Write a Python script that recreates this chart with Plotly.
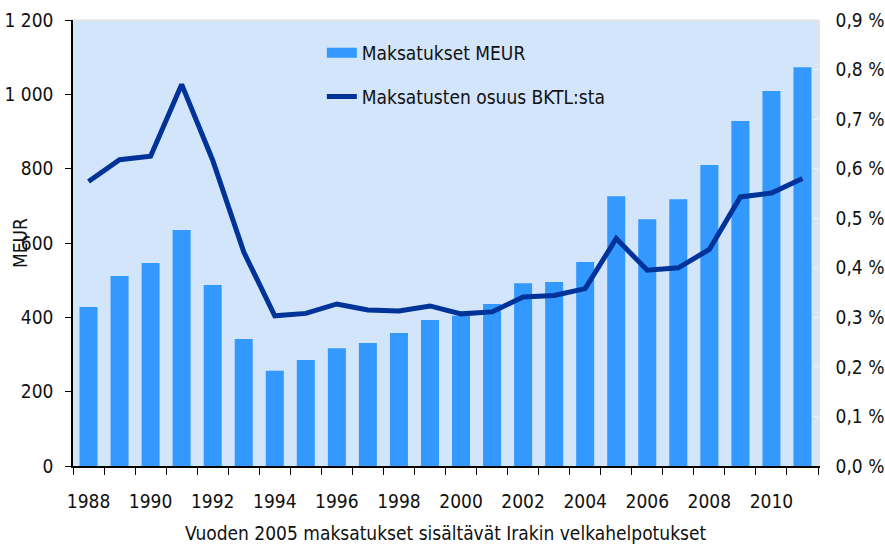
import plotly.graph_objects as go

years = list(range(1988, 2012))
payments_meur = [428, 511, 546, 635, 487, 342, 256, 285, 317, 331, 358, 393, 404,
                 436, 492, 495, 549, 726, 664, 718, 810, 928, 1009, 1073]
share_gni_pct = [0.574, 0.618, 0.625, 0.770, 0.617, 0.432, 0.303, 0.308, 0.327, 0.315,
                 0.313, 0.323, 0.307, 0.311, 0.341, 0.344, 0.358, 0.459, 0.395, 0.400,
                 0.437, 0.543, 0.551, 0.580]

left_tickvals = [0, 200, 400, 600, 800, 1000, 1200]
left_ticktext = ["0", "200", "400", "600", "800", "1 000", "1 200"]
right_tickvals = [0.0, 0.1, 0.2, 0.3, 0.4, 0.5, 0.6, 0.7, 0.8, 0.9]
right_ticktext = ["0,0 %", "0,1 %", "0,2 %", "0,3 %", "0,4 %", "0,5 %", "0,6 %", "0,7 %", "0,8 %", "0,9 %"]
x_tickvals = list(range(1988, 2011, 2))
x_ticktext = [str(v) for v in x_tickvals]

FONT = "Liberation Sans Narrow, DejaVu Sans Condensed, Arial Narrow, sans-serif"
BAR_COLOR = "#3399FF"
LINE_COLOR = "#003399"

fig = go.Figure()
fig.add_trace(go.Bar(
    x=years, y=payments_meur, name="Maksatukset MEUR",
    marker=dict(color=BAR_COLOR, line=dict(width=0)),
    width=0.58, showlegend=False,
))
# legend-only entry giving a wide rectangular swatch for the bars
fig.add_trace(go.Scatter(
    x=[None], y=[None], name="Maksatukset MEUR",
    mode="lines", line=dict(color=BAR_COLOR, width=19),
    legendgroup="a", showlegend=True,
))
fig.add_trace(go.Scatter(
    x=years, y=share_gni_pct, name="Maksatusten osuus BKTL:sta",
    mode="lines", line=dict(color=LINE_COLOR, width=5),
    yaxis="y2", legendgroup="b",
))

fig.update_layout(
    width=885, height=547,
    margin=dict(l=73, r=67, t=20, b=81, autoexpand=False),
    paper_bgcolor="white",
    plot_bgcolor="#D3E5FA",
    font=dict(family=FONT, size=19, color="#111111"),
    showlegend=True,
    legend=dict(
        x=0.334, y=0.969, xanchor="left", yanchor="top",
        bgcolor="rgba(0,0,0,0)", tracegroupgap=16,
        font=dict(family=FONT, size=19, color="#111111"),
        traceorder="grouped",
    ),
    xaxis=dict(
        range=[1987.5, 2011.5],
        tickvals=x_tickvals, ticktext=x_ticktext,
        ticks="", ticklen=0, ticklabelstandoff=17,
        showline=True, linecolor="black", linewidth=1.5,
        showgrid=False, zeroline=False, automargin=False,
        tickfont=dict(size=19),
        minor=dict(tick0=1987.5, dtick=1, ticks="outside", ticklen=7,
                   tickcolor="black", tickwidth=1, showgrid=False),
    ),
    yaxis=dict(
        range=[0, 1200],
        tickvals=left_tickvals, ticktext=left_ticktext,
        ticks="outside", ticklen=6, tickcolor="black",
        showline=True, linecolor="black", linewidth=1.5,
        showgrid=False, zeroline=False, automargin=False,
        ticklabelstandoff=8,
        tickfont=dict(size=19),
    ),
    yaxis2=dict(
        range=[0, 0.9], overlaying="y", side="right",
        tickvals=right_tickvals, ticktext=right_ticktext,
        ticks="inside", ticklen=5, tickcolor="#F2F2F2",
        showline=True, linecolor="#E4E4E4", linewidth=1.5,
        showgrid=False, zeroline=False, automargin=False,
        ticklabelstandoff=12,
        tickfont=dict(size=19),
    ),
    bargap=0.42,
)
fig.add_shape(type="line", xref="paper", yref="paper", x0=0, x1=1, y0=1, y1=1,
              line=dict(color="#E4E4E4", width=1.5))
fig.add_annotation(text="MEUR", xref="paper", yref="paper", x=-0.071, y=0.5,
                   textangle=-90, showarrow=False, font=dict(size=19),
                   xanchor="center", yanchor="middle")
fig.add_annotation(text="Vuoden 2005 maksatukset sisältävät Irakin velkahelpotukset",
                   xref="paper", yref="paper", x=0.5, y=-0.150,
                   showarrow=False, font=dict(size=19),
                   xanchor="center", yanchor="middle")

fig.write_html(
    "out.html",
    config={"displayModeBar": False},
    post_script="document.body.style.margin='0';document.body.style.padding='0';document.body.style.overflow='hidden';",
)
